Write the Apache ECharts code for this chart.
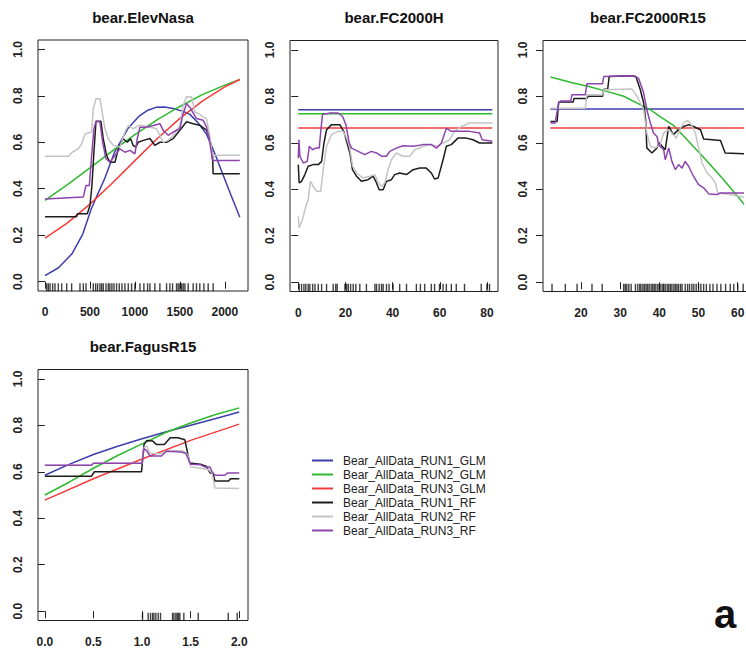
<!DOCTYPE html>
<html><head><meta charset="utf-8">
<script src="https://cdn.jsdelivr.net/npm/echarts@6/dist/echarts.min.js"></script>
<style>html,body{margin:0;padding:0;background:#fff}#c{width:746px;height:650px}</style>
</head><body><div id="c"></div><script>
// ---------- names / ticks ----------
const SERIES_NAMES = ['Bear_AllData_RUN1_GLM','Bear_AllData_RUN2_GLM','Bear_AllData_RUN3_GLM','Bear_AllData_RUN1_RF','Bear_AllData_RUN2_RF','Bear_AllData_RUN3_RF'];
const PANEL_TITLES = ['bear.ElevNasa','bear.FC2000H','bear.FC2000R15','bear.FagusR15'];
const Y_TICKS = [0, 0.2, 0.4, 0.6, 0.8, 1.0];
const X_TICKS_ELEV = [0, 500, 1000, 1500, 2000];
const X_TICKS_FCH = [0, 20, 40, 60, 80];
const X_TICKS_FCR = [20, 30, 40, 50, 60];
const X_TICKS_FAGUS = [0, 0.5, 1.0, 1.5, 2.0];

// ---------- bear.ElevNasa ----------
const elev_glm1 = [[0,0.026],[150,0.06],[300,0.12],[420,0.205],[515,0.314],[590,0.38],[663,0.443],[774,0.558],[922,0.659],[1040,0.71],[1144,0.738],[1241,0.751],[1330,0.752],[1426,0.745],[1537,0.733],[1611,0.72],[1700,0.685],[1796,0.635],[1870,0.57],[1950,0.49],[2056,0.385],[2167,0.277]];
const elev_glm2 = [[0,0.35],[250,0.418],[500,0.49],[750,0.563],[1000,0.633],[1250,0.697],[1500,0.754],[1750,0.805],[2000,0.846],[2167,0.87]];
const elev_glm3 = [[0,0.187],[250,0.253],[500,0.334],[750,0.425],[1000,0.521],[1250,0.616],[1500,0.703],[1750,0.777],[2000,0.838],[2167,0.87]];
const elev_rf1 = [[0,0.28],[352,0.28],[360,0.292],[470,0.292],[500,0.328],[522,0.414],[544,0.557],[567,0.69],[622,0.69],[648,0.615],[685,0.543],[722,0.514],[778,0.514],[815,0.572],[870,0.615],[915,0.6],[952,0.615],[981,0.586],[1011,0.579],[1037,0.6],[1093,0.608],[1167,0.616],[1222,0.587],[1278,0.6],[1352,0.6],[1426,0.616],[1500,0.652],[1574,0.688],[1648,0.68],[1722,0.673],[1796,0.652],[1833,0.616],[1863,0.551],[1870,0.465],[2167,0.465]];
const elev_rf2 = [[0,0.54],[260,0.54],[296,0.555],[370,0.572],[407,0.593],[444,0.636],[518,0.644],[537,0.744],[567,0.787],[611,0.787],[630,0.744],[667,0.658],[704,0.615],[759,0.586],[833,0.579],[889,0.644],[926,0.672],[981,0.658],[1037,0.672],[1093,0.672],[1167,0.665],[1241,0.658],[1315,0.6],[1370,0.608],[1426,0.63],[1500,0.672],[1537,0.759],[1574,0.796],[1630,0.795],[1667,0.73],[1704,0.724],[1796,0.702],[1833,0.63],[1863,0.544],[2167,0.544]];
const elev_rf3 = [[0,0.356],[426,0.364],[456,0.414],[493,0.414],[519,0.543],[544,0.658],[567,0.69],[611,0.687],[641,0.6],[678,0.529],[722,0.514],[778,0.543],[833,0.572],[889,0.557],[944,0.565],[1000,0.55],[1026,0.615],[1056,0.665],[1130,0.665],[1204,0.672],[1278,0.68],[1315,0.651],[1370,0.63],[1426,0.644],[1500,0.658],[1537,0.723],[1574,0.767],[1611,0.751],[1685,0.702],[1759,0.695],[1796,0.666],[1833,0.6],[1863,0.522],[2167,0.522]];
const elev_rug = [19,37,56,85,111,148,185,241,296,389,426,456,537,563,585,611,630,648,678,704,722,744,767,796,826,856,889,926,963,1000,1056,1100,1141,1167,1222,1278,1352,1389,1419,1463,1481,1500,1519,1537,1556,1593,1648,1685,1722,1767,1815,1870];

// ---------- bear.FC2000H ----------
const fch_glm1 = [[0,0.742],[82.3,0.742]];
const fch_glm2 = [[0,0.725],[82.3,0.725]];
const fch_glm3 = [[0,0.663],[82.3,0.663]];
const fch_rf1 = [[0,0.506],[0.4,0.427],[1.4,0.434],[2.8,0.463],[4.2,0.499],[6.3,0.506],[8.5,0.506],[9.9,0.52],[10.9,0.599],[12,0.656],[14.1,0.678],[17.6,0.678],[19.3,0.649],[20.7,0.599],[21.9,0.556],[23,0.484],[24.7,0.456],[26.8,0.434],[29.6,0.441],[31.7,0.456],[32.9,0.434],[34.3,0.398],[36,0.398],[37.4,0.434],[39.5,0.441],[40.9,0.463],[43,0.47],[45.9,0.463],[48.7,0.484],[51.5,0.491],[54.3,0.491],[56.4,0.47],[57.8,0.444],[59.3,0.448],[61.4,0.527],[62.8,0.585],[64.9,0.592],[67.7,0.62],[71.3,0.62],[74.1,0.613],[76.9,0.599],[82.3,0.599]];
const fch_rf2 = [[0,0.284],[0.4,0.234],[1.8,0.269],[3.2,0.327],[4.2,0.355],[5.2,0.434],[6.3,0.413],[7.8,0.391],[9.5,0.391],[10.6,0.484],[12,0.585],[14.1,0.635],[16.9,0.649],[19,0.649],[20.5,0.62],[21.9,0.577],[23,0.499],[24.7,0.47],[27.5,0.448],[30.3,0.456],[32.5,0.463],[33.9,0.427],[35.3,0.413],[36.7,0.427],[38.1,0.484],[39.5,0.527],[41.6,0.556],[44.4,0.542],[47.3,0.542],[49.4,0.57],[52.9,0.585],[56.4,0.592],[59.3,0.585],[61.4,0.599],[64.2,0.613],[66.3,0.649],[69.1,0.67],[72.7,0.685],[82.3,0.685]];
const fch_rf3 = [[0,0.534],[0.3,0.613],[0.7,0.542],[2.1,0.513],[3.8,0.52],[4.7,0.585],[6.1,0.57],[7.5,0.577],[8.9,0.577],[9.6,0.656],[10.3,0.721],[13.4,0.728],[16.9,0.728],[18.8,0.713],[20.2,0.678],[21.6,0.599],[22.6,0.577],[25.4,0.563],[28.2,0.549],[31,0.563],[33.2,0.556],[35.3,0.542],[37.4,0.542],[38.8,0.563],[41.6,0.577],[44.4,0.587],[48.7,0.585],[52.9,0.592],[56.4,0.592],[58.6,0.577],[60.7,0.599],[62.8,0.663],[64.9,0.649],[68.4,0.649],[72.7,0.649],[76.9,0.642],[78,0.613],[82.3,0.606]];
const fch_rug = [0.4,1.4,2.4,3.2,4.2,4.9,6.1,7.1,8.5,9.9,12,14.8,15.9,16.5,19.8,20.5,21.2,22.2,23.3,24.4,26.1,28.9,32.5,33.2,34.3,35.3,36,37.4,38.5,40.2,43,45.9,50.1,51.8,53.6,56.4,57.8,59.9,61.4,62.8,64.9,67,70.5,77.6,80,81.1];

// ---------- bear.FC2000R15 ----------
const fcr_glm1 = [[12.2,0.745],[61.6,0.745]];
const fcr_glm2 = [[12.2,0.883],[18,0.857],[22,0.842],[26.6,0.821],[30.9,0.8],[35.1,0.764],[37.7,0.742],[40,0.715],[43.6,0.675],[47.8,0.6],[52.2,0.52],[56.4,0.441],[60.7,0.355],[61.6,0.335]];
const fcr_glm3 = [[12.2,0.663],[61.6,0.663]];
const fcr_rf1 = [[12.2,0.692],[13.9,0.692],[14.3,0.775],[18,0.775],[18.2,0.79],[21.5,0.79],[21.8,0.8],[25.5,0.8],[25.8,0.83],[26.8,0.83],[27.2,0.885],[33,0.888],[34,0.885],[35.1,0.83],[36,0.771],[36.5,0.7],[36.8,0.578],[38.1,0.556],[39.4,0.578],[40,0.6],[40.7,0.585],[41.5,0.57],[42.2,0.65],[42.4,0.67],[43.6,0.635],[44.5,0.65],[46.2,0.67],[47.5,0.678],[48.7,0.67],[50.5,0.656],[51.3,0.616],[55.6,0.61],[56.8,0.556],[61.6,0.553]];
const fcr_rf2 = [[12.2,0.749],[21.1,0.749],[21.5,0.807],[25.5,0.807],[25.8,0.828],[33,0.831],[34.3,0.8],[36,0.742],[36.8,0.642],[37.7,0.584],[39,0.578],[40.2,0.592],[41.1,0.642],[42.4,0.656],[43.2,0.642],[44.3,0.62],[45.4,0.663],[46.2,0.685],[47.1,0.696],[47.9,0.685],[49.2,0.642],[50,0.578],[50.9,0.513],[52.2,0.47],[53.4,0.449],[54.3,0.427],[54.9,0.384],[58.1,0.377],[61.6,0.366]];
const fcr_rf3 = [[12.2,0.685],[13.4,0.685],[14.3,0.771],[14.8,0.78],[17.4,0.78],[17.7,0.807],[21.1,0.807],[21.5,0.854],[25.5,0.854],[25.8,0.885],[33,0.888],[34.7,0.878],[36,0.814],[36.8,0.742],[37.7,0.685],[38.5,0.642],[39.4,0.627],[39.8,0.592],[41.1,0.57],[41.5,0.527],[42.4,0.578],[43.2,0.52],[44.1,0.484],[44.9,0.506],[45.8,0.491],[46.6,0.52],[47.5,0.498],[48.7,0.456],[50,0.42],[51.3,0.406],[52.6,0.38],[54.7,0.377],[55.6,0.384],[61.6,0.384]];
const fcr_rug = [12.6,16,19,22.8,25.4,30.9,31.3,31.7,32.2,32.8,33.9,34.5,35,35.3,35.8,36.2,36.6,37,37.4,37.9,38.3,38.7,39.1,39.6,40,40.4,40.9,41.1,41.5,42,42.4,42.8,43.2,43.7,44.1,44.5,44.9,45.4,45.8,46.6,47.2,47.7,48.3,48.8,49.4,50,50.6,51.3,52,52.9,53.7,54.7,55.7,56.9,58.1,59,60,61.4];

// ---------- bear.FagusR15 ----------
const fag_glm1 = [[0,0.585],[0.25,0.632],[0.5,0.674],[0.75,0.71],[1.0,0.742],[1.25,0.772],[1.5,0.8],[1.75,0.828],[2.0,0.857]];
const fag_glm2 = [[0,0.5],[0.25,0.555],[0.5,0.615],[0.75,0.67],[1.0,0.72],[1.25,0.77],[1.5,0.81],[1.75,0.845],[2.0,0.875]];
const fag_glm3 = [[0,0.478],[0.5,0.57],[1.0,0.655],[1.5,0.735],[2.0,0.805]];
const fag_rf1 = [[0,0.581],[0.48,0.581],[0.51,0.6],[0.995,0.6],[1.02,0.717],[1.05,0.735],[1.11,0.732],[1.15,0.717],[1.23,0.717],[1.29,0.746],[1.37,0.746],[1.44,0.738],[1.49,0.638],[1.6,0.632],[1.66,0.624],[1.7,0.595],[1.73,0.593],[1.75,0.56],[1.89,0.56],[1.91,0.57],[2.0,0.57]];
const fag_rf2 = [[0,0.628],[0.48,0.628],[0.5,0.637],[1.0,0.637],[1.02,0.705],[1.05,0.71],[1.08,0.68],[1.2,0.678],[1.25,0.69],[1.42,0.69],[1.47,0.675],[1.5,0.62],[1.6,0.615],[1.68,0.61],[1.72,0.595],[1.75,0.53],[2.0,0.528]];
const fag_rf3 = [[0,0.628],[0.48,0.628],[0.5,0.637],[1.0,0.637],[1.02,0.7],[1.05,0.69],[1.08,0.668],[1.2,0.668],[1.25,0.688],[1.4,0.685],[1.45,0.68],[1.5,0.632],[1.6,0.63],[1.65,0.62],[1.7,0.62],[1.72,0.6],[1.75,0.585],[1.85,0.585],[1.88,0.595],[2.0,0.595]];
const fag_rug = [1.005,1.063,1.087,1.108,1.122,1.142,1.166,1.19,1.314,1.328,1.348,1.362,1.376,1.389,1.43,1.578,1.887,1.979];

// ---------- assembly ----------
const PANEL_DATA = [
  [elev_glm1, elev_glm2, elev_glm3, elev_rf1, elev_rf2, elev_rf3],
  [fch_glm1, fch_glm2, fch_glm3, fch_rf1, fch_rf2, fch_rf3],
  [fcr_glm1, fcr_glm2, fcr_glm3, fcr_rf1, fcr_rf2, fcr_rf3],
  [fag_glm1, fag_glm2, fag_glm3, fag_rf1, fag_rf2, fag_rf3]
];
const PANEL_RUGS = [elev_rug, fch_rug, fcr_rug, fag_rug];
const PANEL_XTICKS = [X_TICKS_ELEV, X_TICKS_FCH, X_TICKS_FCR, X_TICKS_FAGUS];

const COLORS = ['#3d3dae','#2eb82e','#f23c3c','#1c1c1c','#c4c4c4','#8e44ad'];
const FONT = '"Liberation Sans", Arial, sans-serif';
const GRIDS = [
  {left:38, top:40, width:210, height:251},
  {left:290, top:40.5, width:208, height:251},
  {left:543, top:40.5, width:210, height:251},
  {left:38, top:369.5, width:210, height:251}
];
const X_RANGES = [[-78,2258],[-3.5,84.7],[10.3,63.9],[-0.07,2.09]];
const X_FMT = [v=>String(v), v=>String(v), v=>String(v), v=>v.toFixed(1)];
const Y_MIN = -0.04, Y_MAX = 1.04, RUG_Y = -0.024;
const TITLE_CENTERS = [[143,10],[394,10],[648,10],[143,338.5]];

const option = {
  animation: false,
  backgroundColor: '#ffffff',
  title: PANEL_TITLES.map((t,i)=>({
    text: t, left: TITLE_CENTERS[i][0], top: TITLE_CENTERS[i][1], textAlign: 'center', padding: 0,
    textStyle: {fontSize: 15, fontWeight: 'bold', color: '#111', fontFamily: FONT}
  })).concat([{
    text: 'a', left: 725, top: 594, textAlign: 'center', padding: 0,
    textStyle: {fontSize: 40, fontWeight: 'bold', color: '#111', fontFamily: FONT}
  }]),
  legend: {
    orient: 'vertical', left: 312, top: 453.5, itemWidth: 21, itemHeight: 2, itemGap: 0,
    icon: 'rect', selectedMode: false, padding: 0,
    textStyle: {fontSize: 12, lineHeight: 14, color: '#222', fontFamily: FONT, padding: [0,0,0,5]},
    data: SERIES_NAMES
  },
  grid: GRIDS.map(g=>Object.assign({show:true, borderColor:'#222', borderWidth:1, backgroundColor:'transparent', containLabel:false, outerBoundsMode:'none'}, g)),
  xAxis: GRIDS.map((g,i)=>({
    type:'value', gridIndex:i, min:X_RANGES[i][0], max:X_RANGES[i][1],
    axisLine:{show:false}, splitLine:{show:false},
    axisTick:{show:true, inside:false, length:7, lineStyle:{color:'#222'}, customValues: PANEL_XTICKS[i]},
    axisLabel:{show:true, customValues: PANEL_XTICKS[i], margin:15, fontSize:12, fontWeight:'bold', color:'#222', fontFamily:FONT, formatter:X_FMT[i]}
  })),
  yAxis: GRIDS.map((g,i)=>({
    type:'value', gridIndex:i, min:Y_MIN, max:Y_MAX,
    axisLine:{show:false}, splitLine:{show:false},
    axisTick:{show:true, inside:false, length:7, lineStyle:{color:'#222'}, customValues: Y_TICKS},
    axisLabel:{show:true, customValues: Y_TICKS, rotate:90, margin:14, fontSize:12, fontWeight:'bold', color:'#222', fontFamily:FONT, formatter:v=>v.toFixed(1)}
  })),
  series: []
};

PANEL_DATA.forEach((arr, p)=>{
  arr.forEach((d, s)=>{
    option.series.push({
      type:'line', name: SERIES_NAMES[s], xAxisIndex:p, yAxisIndex:p, data:d,
      symbol:'none', showSymbol:false, smooth:false,
      lineStyle:{width:1.5, color:COLORS[s]}, itemStyle:{color:COLORS[s]},
      emphasis:{disabled:true}, z: 2 + s
    });
  });
  option.series.push({
    type:'scatter', xAxisIndex:p, yAxisIndex:p,
    data: PANEL_RUGS[p].map(x=>[x, RUG_Y]),
    symbol:'rect', symbolSize:[1.4,8], itemStyle:{color:'#111'}, silent:true, z: 10
  });
});

const chart = echarts.init(document.getElementById('c'), null, {renderer:'svg', width:746, height:650});
chart.setOption(option);
</script></body></html>
